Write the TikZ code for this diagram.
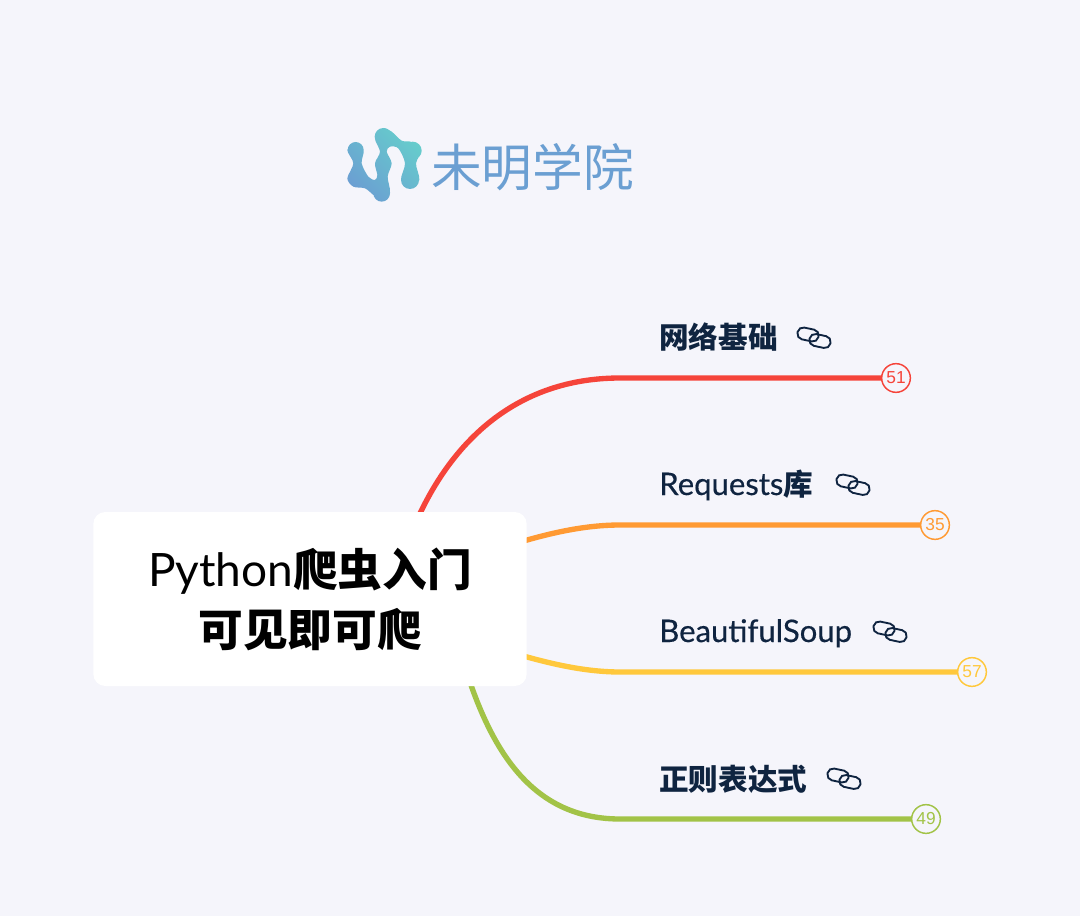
\documentclass[tikz,border=0pt]{standalone}
\usepackage{fontspec}
\setmainfont{Lato}
\newfontfamily\cjk{Noto Sans CJK SC}
\newfontfamily\topicfont{Lato}[Scale=1.05, FakeBold=0.4]
\newfontfamily\rootfont{Lato}[Scale=1.03]
\newfontfamily\numfont{Liberation Sans}
\usetikzlibrary{backgrounds, positioning}
\definecolor{pagebg}{HTML}{F5F5FB}
\definecolor{ink}{HTML}{0F2440}
\definecolor{redb}{HTML}{F5443A}
\definecolor{orangeb}{HTML}{FF9A33}
\definecolor{yellowb}{HTML}{FFC83C}
\definecolor{greenb}{HTML}{A2C347}
\definecolor{logoblue}{HTML}{6B9FD2}
\definecolor{logoteal}{HTML}{66CCCC}
\begin{document}
\begin{tikzpicture}[
  x=0.75pt, y=-0.75pt,
  rootbox/.style = {fill=white, rounded corners=9pt, minimum width=325pt, minimum height=130.5pt,
                    align=center, inner sep=0pt, font=\fontsize{33.5}{45}\selectfont},
  topic/.style   = {anchor=base west, inner sep=0pt, text=ink, font=\fontsize{22.2}{26}\topicfont},
  count/.style   = {draw=#1, circle, line width=1.1pt, fill=pagebg, text=#1, minimum size=21.5pt,
                    inner sep=0pt, font=\fontsize{13}{15}\numfont},
  branch/.style  = {draw=#1, line width=4pt},
  ring/.style    = {draw=ink, line width=1.4pt, rounded corners=4.2pt, rotate=-12,
                    minimum width=16pt, minimum height=9pt, inner sep=0pt},
]
\useasboundingbox (0,0) rectangle (1080,916);

% logo
\begin{scope}[shift={(340,120)}, x=0.25pt, y=-0.25pt]
  \shade[top color=logoteal, bottom color=logoblue, shading angle=-45]
    plot[smooth cycle, tension=0.5] coordinates {
      (47,66) (71,90) (65,130) (85,170) (105,180) (112,165) (105,130) (120,95) (105,55)
      (130,25) (155,35) (185,62) (215,66) (245,90) (228,130) (238,180) (210,207)
      (183,180) (195,130) (175,85) (150,80) (140,95) (155,130) (143,170) (150,218)
      (125,245) (100,225) (75,205) (40,200) (22,175) (40,130) (22,90)}
    (47,90) circle[radius=24] (130,50) circle[radius=26] (218,92) circle[radius=27]
    (210,180) circle[radius=27] (125,220) circle[radius=25] (130,130) circle[radius=24];
\end{scope}
\node[anchor=west, inner sep=0pt, text=logoblue, font=\cjk\fontsize{38}{40}\selectfont] (brand) at (431,167) {未明学院};

% root
\node[rootbox] (root) at (310,599) {{\rootfont Python}{\cjk\bfseries 爬虫入门}\\{\cjk\bfseries 可见即可爬}};

% topics
\node[topic] (net) at (659,348) {{\cjk\bfseries 网络基础}};
\node[topic] (req) at (659,495) {Requests{\cjk\bfseries 库}};
\node[topic] (soup) at (659,642) {BeautifulSoup};
\node[topic] (regex) at (659,790) {{\cjk\bfseries 正则表达式}};

\foreach \t/\p/\q in {net/814/338, req/853/485, soup/890/632, regex/844/779} {
  \coordinate (link\t) at (\p,\q);
  \node[ring] (ringa\t) at ([shift={(-6,-3.5)}]link\t) {};
  \node[ring] (ringb\t) at ([shift={(6,3)}]link\t) {};
}

% counts
\node[count=redb] (n51) at (896,378) {51};
\node[count=orangeb] (n35) at (935,525) {35};
\node[count=yellowb] (n57) at (972,672) {57};
\node[count=greenb] (n49) at (926,819) {49};

\begin{pgfonlayer}{background}
  \fill[pagebg] (0,0) rectangle (1080,916);
  \draw[branch=redb] (root.center) -- (405,550) .. controls (440,450) and (510,378) .. (620,378) -- (n51);
  \draw[branch=orangeb] (root.center) .. controls (420,590) and (520,525) .. (620,525) -- (n35);
  \draw[branch=yellowb] (root.center) .. controls (420,610) and (525,672) .. (620,672) -- (n57);
  \draw[branch=greenb] (root.center) -- (457,640) .. controls (482,730) and (520,819) .. (620,819) -- (n49);
\end{pgfonlayer}

\end{tikzpicture}
\end{document}
